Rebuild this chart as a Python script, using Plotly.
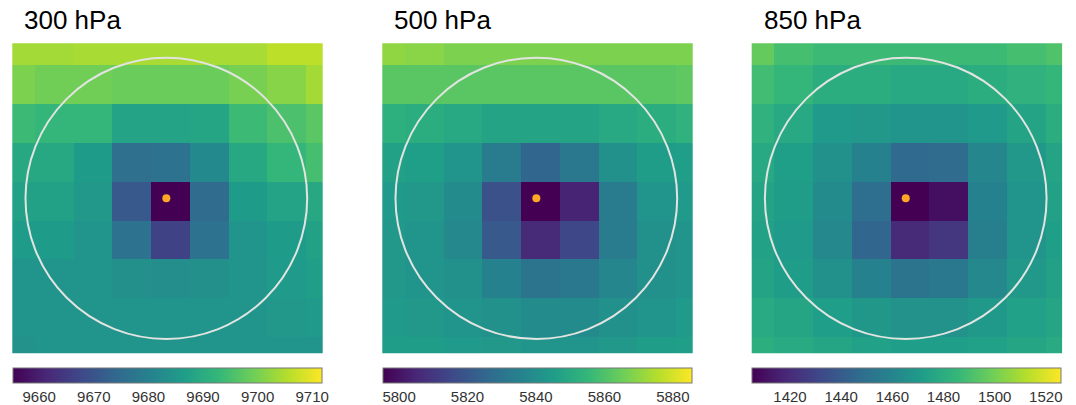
import plotly.graph_objects as go

# ---------------- data ----------------
levels = ["300 hPa", "500 hPa", "850 hPa"]
grid_x = [0, 1, 2, 3, 4, 5, 6, 7, 8]
grid_y = [0, 1, 2, 3, 4, 5, 6, 7, 8]

z_300 = [
    [9703.9, 9703.9, 9704.4, 9704.4, 9704.4, 9704.4, 9704.4, 9706.1, 9706.1],
    [9700.5, 9699.4, 9699.4, 9698.8, 9698.8, 9698.8, 9700.0, 9701.5, 9704.0],
    [9693.7, 9692.6, 9692.6, 9688.0, 9688.0, 9688.5, 9693.7, 9695.5, 9697.0],
    [9689.2, 9689.2, 9686.3, 9676.0, 9676.6, 9682.0, 9689.2, 9692.6, 9694.8],
    [9687.5, 9687.5, 9685.2, 9671.0, 9655.2, 9675.0, 9686.3, 9688.0, 9689.2],
    [9686.3, 9686.3, 9684.6, 9676.6, 9666.5, 9676.6, 9684.6, 9686.3, 9687.5],
    [9684.6, 9684.6, 9684.6, 9683.5, 9683.0, 9683.5, 9684.6, 9685.8, 9686.9],
    [9684.6, 9684.6, 9684.6, 9684.6, 9684.6, 9684.6, 9684.6, 9685.2, 9685.8],
    [9684.0, 9684.6, 9684.6, 9684.6, 9684.6, 9684.6, 9684.6, 9684.6, 9684.6],
]
z_500 = [
    [5870.3, 5869.3, 5867.5, 5867.5, 5867.5, 5867.5, 5867.5, 5867.5, 5867.5],
    [5862.1, 5862.1, 5862.1, 5862.1, 5862.1, 5862.1, 5862.1, 5862.1, 5863.0],
    [5852.2, 5851.3, 5849.5, 5847.7, 5847.7, 5847.7, 5849.5, 5851.3, 5853.1],
    [5846.8, 5845.9, 5842.3, 5833.2, 5825.1, 5831.4, 5840.5, 5845.0, 5845.9],
    [5844.1, 5843.2, 5838.6, 5817.9, 5795.3, 5804.3, 5833.2, 5842.3, 5844.1],
    [5843.2, 5842.3, 5837.7, 5820.6, 5806.1, 5815.2, 5833.2, 5840.5, 5842.3],
    [5843.2, 5842.3, 5840.5, 5835.0, 5829.6, 5831.4, 5836.8, 5840.5, 5842.3],
    [5844.1, 5843.2, 5842.3, 5840.5, 5838.6, 5838.6, 5840.5, 5842.3, 5844.1],
    [5845.0, 5845.0, 5844.1, 5843.2, 5842.3, 5842.3, 5843.2, 5845.0, 5845.9],
]
z_850 = [
    [1497.1, 1489.9, 1487.4, 1487.4, 1487.4, 1487.4, 1487.4, 1489.9, 1492.3],
    [1488.7, 1485.0, 1480.2, 1480.2, 1477.8, 1477.8, 1480.2, 1482.6, 1485.0],
    [1482.6, 1477.8, 1470.5, 1469.3, 1468.1, 1468.1, 1470.5, 1475.4, 1480.2],
    [1477.8, 1473.0, 1465.7, 1458.5, 1446.4, 1447.6, 1460.9, 1469.3, 1475.4],
    [1475.4, 1471.7, 1463.3, 1448.8, 1405.3, 1410.1, 1458.5, 1468.1, 1474.2],
    [1474.2, 1470.5, 1462.1, 1445.2, 1419.8, 1424.6, 1457.2, 1468.1, 1473.0],
    [1475.4, 1471.7, 1465.7, 1458.5, 1451.2, 1453.6, 1462.1, 1469.3, 1474.2],
    [1478.6, 1476.2, 1472.5, 1468.9, 1466.5, 1466.5, 1470.1, 1473.8, 1476.2],
    [1481.0, 1478.6, 1476.2, 1473.8, 1472.5, 1472.5, 1473.8, 1476.2, 1478.6],
]
z_all = [z_300, z_500, z_850]

z_min = [9655.2, 5795.3, 1405.3]
z_max = [9711.8, 5885.6, 1526.1]
tick_vals = [
    [9660, 9670, 9680, 9690, 9700, 9710],
    [5800, 5820, 5840, 5860, 5880],
    [1420, 1440, 1460, 1480, 1500, 1520],
]

# storm centre and search radius (grid units)
centre_x = 3.89
centre_y = 3.93
radius = 3.63

# ---------------- layout helpers ----------------
W, H = 1076, 405
panel_left_px = [12.3, 382.3, 751.7]
panel_w_px = 310.4
panel_top_px = 43.3
panel_bot_px = 353.3
cbar_top_px = 367.8
cbar_thick_px = 15

x_range = [-0.08, 7.92]
y_range = [7.93, -0.07]

fig = go.Figure()
layout = dict(
    width=W, height=H,
    margin=dict(l=0, r=0, t=0, b=0),
    paper_bgcolor="white", plot_bgcolor="white",
    showlegend=False,
    font=dict(family="Liberation Sans, Arial, sans-serif", color="#222222"),
    shapes=[], annotations=[],
)

for i in range(3):
    sx = "" if i == 0 else str(i + 1)
    xa, ya = "x" + sx, "y" + sx
    x0 = panel_left_px[i] / W
    x1 = (panel_left_px[i] + panel_w_px) / W
    y0 = 1 - panel_bot_px / H
    y1 = 1 - panel_top_px / H

    layout["xaxis" + sx] = dict(domain=[x0, x1], range=x_range, visible=False,
                                anchor=ya, fixedrange=True)
    layout["yaxis" + sx] = dict(domain=[y0, y1], range=y_range, visible=False,
                                anchor=xa, fixedrange=True)

    fig.add_trace(go.Heatmap(
        x=grid_x, y=grid_y, z=z_all[i],
        zmin=z_min[i], zmax=z_max[i],
        colorscale="Viridis",
        xaxis=xa, yaxis=ya,
        hoverinfo="skip",
        colorbar=dict(
            orientation="h",
            lenmode="pixels", len=panel_w_px - 1,
            thickness=cbar_thick_px,
            x=(x0 + x1) / 2, xanchor="center",
            y=1 - cbar_top_px / H, yanchor="top",
            xpad=0, ypad=0,
            outlinewidth=1, outlinecolor="#777777",
            tickmode="array", tickvals=tick_vals[i],
            ticks="",
            tickfont=dict(size=15, color="#333333",
                          family="Liberation Sans, Arial, sans-serif"),
        ),
    ))

    fig.add_trace(go.Scatter(
        x=[centre_x], y=[centre_y], mode="markers",
        marker=dict(size=8, color="#ffa726"),
        xaxis=xa, yaxis=ya, hoverinfo="skip",
    ))

    layout["shapes"].append(dict(
        type="circle", xref=xa, yref=ya,
        x0=centre_x - radius, x1=centre_x + radius,
        y0=centre_y - radius, y1=centre_y + radius,
        line=dict(color="rgba(225,228,225,1)", width=2),
    ))

    layout["annotations"].append(dict(
        text=levels[i], xref="paper", yref="paper",
        x=(panel_left_px[i] + 10) / W, y=1 - 20 / H,
        xanchor="left", yanchor="middle", showarrow=False,
        font=dict(size=26, color="black",
                  family="Liberation Sans, Arial, sans-serif"),
    ))

fig.update_layout(**layout)
fig.write_html("out.html")
